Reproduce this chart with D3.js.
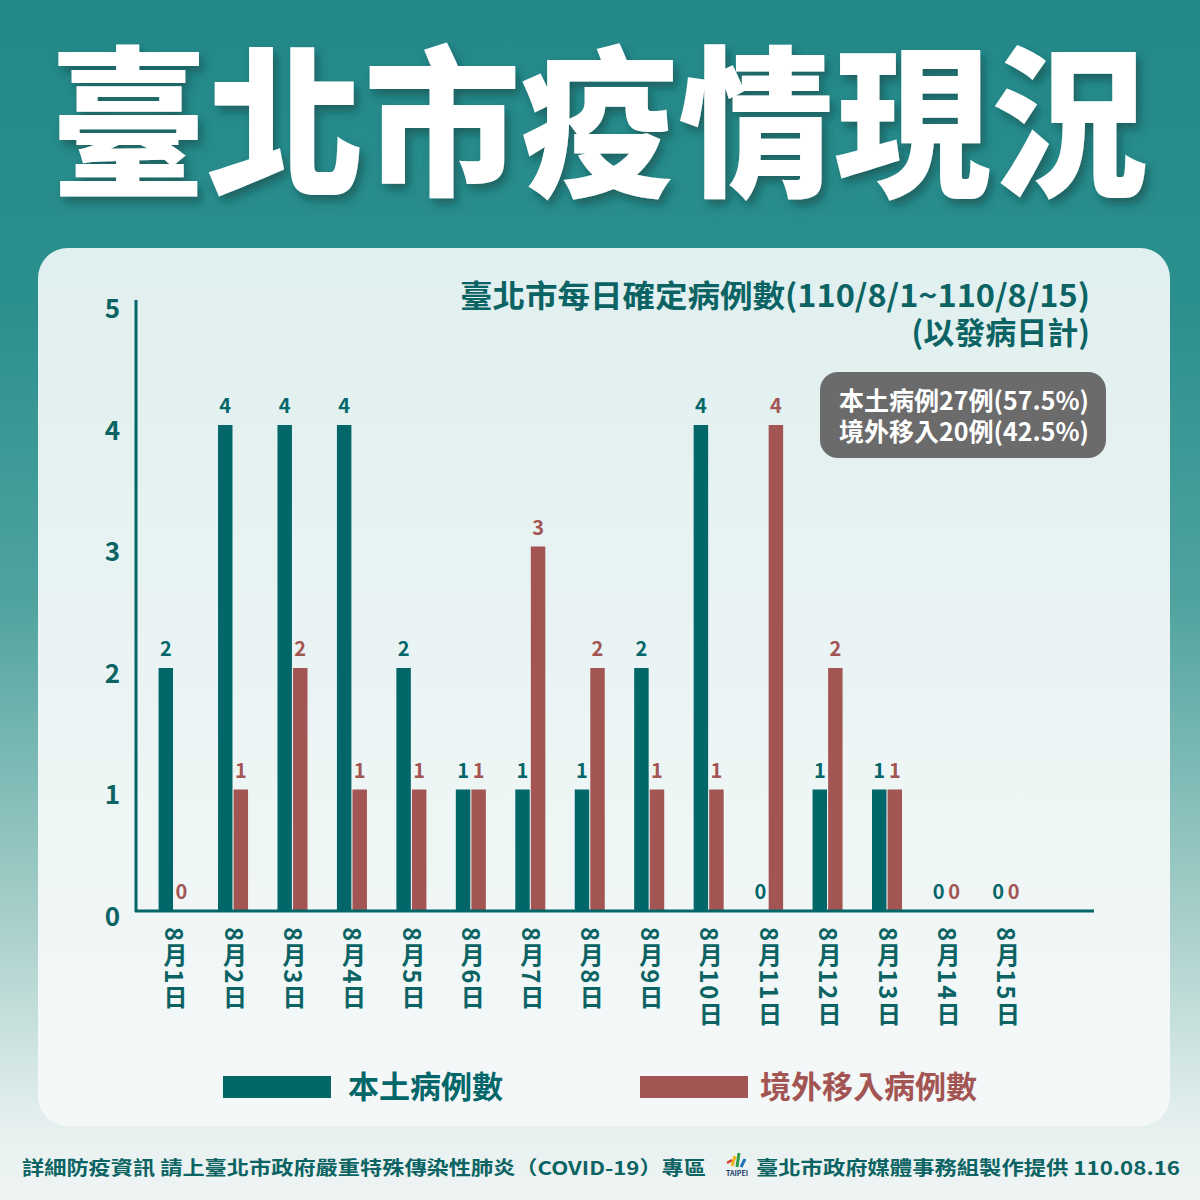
<!DOCTYPE html>
<html><head><meta charset="utf-8">
<script src="https://cdn.jsdelivr.net/npm/d3@7"></script>
<style>
html,body{margin:0;padding:0;background:#fff;}
svg{display:block;}
text{font-family:"Noto Sans CJK TC","Noto Sans",sans-serif;}
</style></head>
<body>
<script>
// ---- data ----
const days = ["8月1日","8月2日","8月3日","8月4日","8月5日","8月6日","8月7日","8月8日","8月9日","8月10日","8月11日","8月12日","8月13日","8月14日","8月15日"];
const localCases = [2,4,4,4,2,1,1,1,2,4,0,1,1,0,0];
const importedCases = [0,1,2,1,1,1,3,2,1,1,4,2,1,0,0];
const seriesNames = ["本土病例數","境外移入病例數"];
const yTicks = [0,1,2,3,4,5];
const titleText = "臺北市疫情現況";
const subtitle1 = "臺北市每日確定病例數(110/8/1~110/8/15)";
const subtitle2 = "(以發病日計)";
const summaryLines = ["本土病例27例(57.5%)","境外移入20例(42.5%)"];
const footerLeft = "詳細防疫資訊 請上臺北市政府嚴重特殊傳染性肺炎（COVID-19）專區";
const footerRight = "臺北市政府媒體事務組製作提供 110.08.16";

const W = 1200, H = 1200;
const teal = "#03676a", red = "#a35553", textTeal = "#0b6363";

const svg = d3.select("body").append("svg").attr("width", W).attr("height", H);
const defs = svg.append("defs");

const bg = defs.append("linearGradient").attr("id","bg").attr("x1",0).attr("y1",0).attr("x2",0).attr("y2",1);
[[0,"#23888a"],[0.25,"#2b8f8d"],[0.5,"#4fa39f"],[0.75,"#a2ccc7"],[0.95,"#e9f2f1"],[1,"#eef4f3"]].forEach(s=>bg.append("stop").attr("offset",s[0]).attr("stop-color",s[1]));
const card = defs.append("linearGradient").attr("id","card").attr("x1",0).attr("y1",0).attr("x2",0).attr("y2",1);
[[0,"#e0efef"],[0.5,"#ebf4f4"],[1,"#f5f8f8"]].forEach(s=>card.append("stop").attr("offset",s[0]).attr("stop-color",s[1]));
const sh = defs.append("filter").attr("id","sh").attr("x","-10%").attr("y","-10%").attr("width","130%").attr("height","140%");
sh.append("feDropShadow").attr("dx",4).attr("dy",6).attr("stdDeviation",5).attr("flood-color","#0a3f3f").attr("flood-opacity",0.55);

svg.append("rect").attr("width",W).attr("height",H).attr("fill","url(#bg)");

// title
svg.append("text").attr("x",50).attr("y",184)
  .attr("textLength",1098).attr("lengthAdjust","spacingAndGlyphs")
  .attr("font-size",162).attr("font-weight",900).attr("fill","#fff")
  .attr("filter","url(#sh)").text(titleText);

// card
svg.append("rect").attr("x",38).attr("y",248).attr("width",1132).attr("height",878).attr("rx",30).attr("fill","url(#card)");

// subtitles
svg.append("text").attr("x",1090).attr("y",307).attr("text-anchor","end").attr("font-size",31).attr("font-weight",700).attr("fill",textTeal)
  .attr("textLength",630).attr("lengthAdjust","spacingAndGlyphs").text(subtitle1);
svg.append("text").attr("x",1090).attr("y",344).attr("text-anchor","end").attr("font-size",31).attr("font-weight",700).attr("fill",textTeal).text(subtitle2);

// summary box
svg.append("rect").attr("x",820).attr("y",372).attr("width",286).attr("height",86).attr("rx",18).attr("fill","#6b6b6b");
summaryLines.forEach((t,i)=>svg.append("text").attr("x",964).attr("y",410+i*31).attr("text-anchor","middle")
  .attr("font-size",25).attr("font-weight",700).attr("fill","#fff").text(t));

// scales
const y = d3.scaleLinear().domain([0,5]).range([911,303.5]);
const x = d3.scaleBand().domain(days).range([143.7,1035.8]).paddingInner(0.495).paddingOuter(0.25);
const xs = d3.scaleBand().domain(seriesNames).range([0,x.bandwidth()]).paddingInner(0.07);

// y axis
const yAxis = d3.axisLeft(y).tickValues(yTicks).tickSize(0).tickPadding(16).tickFormat(d3.format("d"));
const gy = svg.append("g").attr("transform","translate(136,5)").call(yAxis);
gy.select(".domain").remove();
gy.selectAll("text").attr("font-family","'Noto Sans','Open Sans',sans-serif").attr("font-size",26).attr("font-weight",700).attr("fill",textTeal).attr("dy","0.36em");
svg.append("line").attr("x1",136).attr("x2",136).attr("y1",300).attr("y2",912).attr("stroke",teal).attr("stroke-width",3);

// bars
const series = [localCases, importedCases];
const colors = [teal, red];
series.forEach((vals,si)=>{
  const g = svg.append("g");
  g.selectAll("rect").data(vals).join("rect")
    .attr("x",(d,i)=>x(days[i])+xs(seriesNames[si]))
    .attr("width",xs.bandwidth())
    .attr("y",d=>y(d)).attr("height",d=>y(0)-y(d))
    .attr("fill",colors[si]);
  g.selectAll("text").data(vals).join("text")
    .attr("x",(d,i)=>x(days[i])+xs(seriesNames[si])+xs.bandwidth()/2)
    .attr("y",d=>y(d)-12)
    .attr("text-anchor","middle")
    .attr("font-family","'Noto Sans','Open Sans',sans-serif")
    .attr("font-size",20).attr("font-weight",700).attr("fill",colors[si])
    .text(d=>d);
});

// x axis
const xAxis = d3.axisBottom(x).tickSize(0).tickPadding(14);
const gx = svg.append("g").attr("transform","translate(0,911)").call(xAxis);
gx.select(".domain").remove();
gx.selectAll("text").attr("font-family","'Noto Sans CJK TC',sans-serif").attr("font-size",24).attr("font-weight",700)
  .attr("fill",textTeal).attr("dy",0).attr("y",16).attr("x",2)
  .style("writing-mode","vertical-rl").style("letter-spacing","2px").attr("text-anchor","start");
svg.append("line").attr("x1",135).attr("x2",1094).attr("y1",911).attr("y2",911).attr("stroke",teal).attr("stroke-width",3);

// legend
const legX = [223,640], legT=[348,760];
seriesNames.forEach((n,i)=>{
  svg.append("rect").attr("x",legX[i]).attr("y",1076).attr("width",108).attr("height",22).attr("fill",colors[i]);
  svg.append("text").attr("x",legT[i]).attr("y",1098).attr("font-size",31).attr("font-weight",700).attr("fill",colors[i]).text(n);
});

// footer
svg.append("text").attr("x",22).attr("y",1175).attr("font-size",19).attr("font-weight",700).attr("fill",textTeal)
  .attr("textLength",684).attr("lengthAdjust","spacingAndGlyphs").text(footerLeft);
svg.append("text").attr("x",1180).attr("y",1175).attr("text-anchor","end").attr("font-size",19).attr("font-weight",700).attr("fill",textTeal)
  .attr("textLength",424).attr("lengthAdjust","spacingAndGlyphs").text(footerRight);
// logo
const lg = svg.append("g").attr("transform","translate(724,1152)");
lg.append("line").attr("x1",8).attr("y1",14).attr("x2",11).attr("y2",4).attr("stroke","#f2b51c").attr("stroke-width",3);
lg.append("line").attr("x1",13).attr("y1",15).attr("x2",15).attr("y2",1).attr("stroke","#2e9a48").attr("stroke-width",3);
lg.append("line").attr("x1",17).attr("y1",15).attr("x2",21).attr("y2",7).attr("stroke","#1f6fb8").attr("stroke-width",3);
lg.append("line").attr("x1",3).attr("y1",11).attr("x2",8).attr("y2",8).attr("stroke","#d8402e").attr("stroke-width",2.5);
lg.append("text").attr("x",13).attr("y",24).attr("text-anchor","middle").attr("font-family","'Liberation Sans',sans-serif").attr("font-size",7).attr("font-weight",700).attr("fill","#1a3a6a").text("TAIPEI");
</script>
</body></html>
